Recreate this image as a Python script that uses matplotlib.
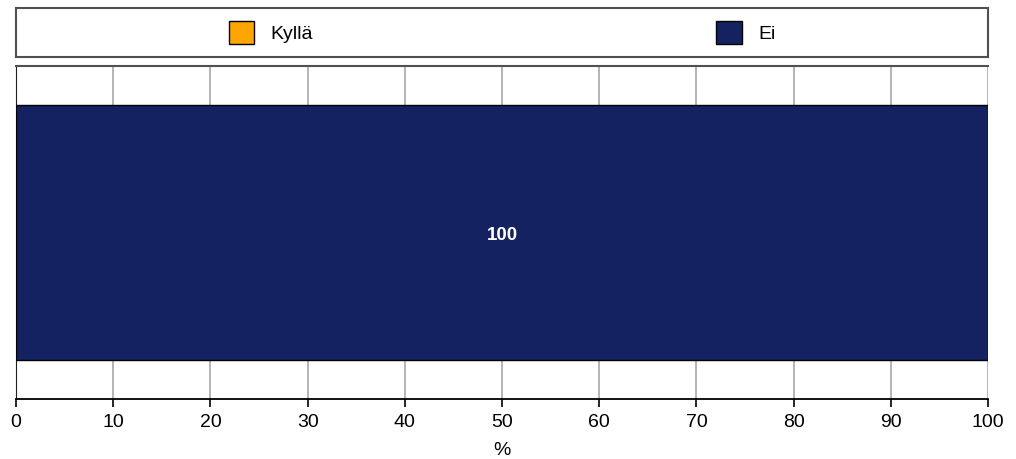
import matplotlib
matplotlib.use("Agg")
import matplotlib.pyplot as plt
import numpy as np

plt.rcParams['font.family'] = ['Liberation Sans', 'DejaVu Sans']

# data
categories = ['']
series_names = ['Kyllä', 'Ei']
values_kylla = [0]
values_ei = [100]
colors = ['#FFA500', '#152262']
xticks = np.arange(0, 101, 10)

fig = plt.figure(figsize=(10.16, 4.59), dpi=100)

ax = fig.add_axes([16/1016, 60/459, 972/1016, 333/459])
ypos = np.arange(len(categories))
bar_h = 0.766

b1 = ax.barh(ypos, values_kylla, height=bar_h, color=colors[0], edgecolor='black',
             linewidth=1, label=series_names[0], zorder=3)
b2 = ax.barh(ypos, values_ei, left=values_kylla, height=bar_h, color=colors[1],
             edgecolor='black', linewidth=1, label=series_names[1], zorder=3)

# value labels
for i in range(len(categories)):
    for left, v in [(0, values_kylla[i]), (values_kylla[i], values_ei[i])]:
        if v > 0:
            ax.text(left + v / 2, ypos[i] - 0.01, f'{v:g}', ha='center', va='center',
                    color='white', fontsize=13.5, fontweight='bold', zorder=4)

ax.set_xlim(0, 100)
ax.set_ylim(-0.5, 0.5)
ax.set_xticks(xticks)
ax.set_yticks([])
ax.grid(axis='x', color='#A8A8A8', linewidth=1.2, zorder=0)
ax.tick_params(axis='x', length=6, width=1.2, pad=5, labelsize=14, colors='black')
ax.set_xlabel('%', fontsize=14, labelpad=7.5)
ax.spines['right'].set_visible(False)
ax.spines['top'].set_color('#505050')
ax.spines['top'].set_linewidth(1.5)
ax.spines['left'].set_color('#202020')
ax.spines['bottom'].set_linewidth(1.3)

# legend box
lax = fig.add_axes([16/1016, 402/459, 972/1016, 49/459])
lax.set_xticks([])
lax.set_yticks([])
for s in lax.spines.values():
    s.set_color('#505050')
    s.set_linewidth(1.5)
handles, labels = ax.get_legend_handles_labels()
lax.legend(handles, labels, loc='center', ncol=2, frameon=False, fontsize=14,
           handlelength=1.3, handleheight=1.5, handletextpad=0.85, columnspacing=20.75)

fig.savefig('out.png', dpi=100)
